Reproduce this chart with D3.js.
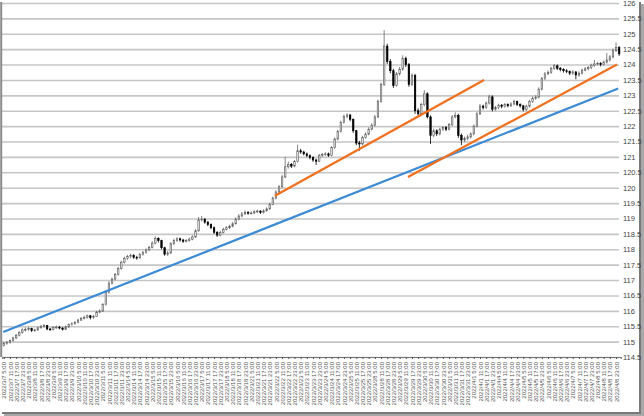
<!DOCTYPE html>
<html><head><meta charset="utf-8">
<script src="https://cdn.jsdelivr.net/npm/d3@7"></script>
<style>html,body{margin:0;padding:0;background:#fff;} svg{display:block;}</style>
</head><body>
<svg id="c" width="644" height="416"></svg>
<script>
const days = ["2022/3/7","2022/3/8","2022/3/9","2022/3/10","2022/3/11","2022/3/14","2022/3/15","2022/3/16","2022/3/17","2022/3/18","2022/3/21","2022/3/22","2022/3/23","2022/3/24","2022/3/25","2022/3/28","2022/3/29","2022/3/30","2022/3/31","2022/4/1","2022/4/4","2022/4/5","2022/4/6","2022/4/7","2022/4/8"];
const candleHours = ["5:00","8:00","11:00","14:00","17:00","20:00","23:00","2:00"];
const tickHours = ["5:00","11:00","17:00","23:00"];
const yTicks = [114.5,115,115.5,116,116.5,117,117.5,118,118.5,119,119.5,120,120.5,121,121.5,122,122.5,123,123.5,124,124.5,125,125.5,126];

const opens = [114.88,114.94,114.97,115.03,115.12,115.21,115.30,115.38,115.40,115.42,
115.36,115.38,115.45,115.49,115.52,115.41,115.39,115.46,115.47,115.44,
115.40,115.48,115.55,115.58,115.63,115.70,115.75,115.79,115.84,115.78,
115.82,115.96,115.99,116.20,116.60,116.90,117.03,117.18,117.38,117.58,
117.70,117.76,117.80,117.74,117.72,117.83,117.90,117.98,118.06,118.20,
118.35,118.28,118.05,117.84,117.88,118.18,118.28,118.34,118.30,118.26,
118.29,118.33,118.40,118.60,118.96,118.98,118.88,118.80,118.70,118.55,
118.46,118.55,118.65,118.70,118.75,118.83,118.98,119.08,119.15,119.20,
119.17,119.18,119.22,119.24,119.19,119.25,119.31,119.46,119.66,119.86,
120.03,120.35,120.68,120.76,120.70,120.85,121.20,121.16,121.10,121.04,
120.98,120.90,120.86,121.05,121.08,121.10,121.05,121.30,121.58,121.83,
122.12,122.31,122.36,122.22,121.85,121.45,121.42,121.63,121.74,121.90,
122.03,122.30,122.80,123.35,124.60,124.10,123.80,123.32,123.70,123.85,
124.20,124.00,123.35,123.65,122.50,122.40,122.70,123.05,122.30,121.70,
121.85,121.75,121.90,121.95,121.90,122.05,122.30,122.35,121.70,121.55,
121.60,121.65,121.75,122.00,122.40,122.65,122.60,122.75,122.95,122.55,
122.60,122.68,122.64,122.70,122.66,122.72,122.80,122.70,122.66,122.55,
122.65,122.80,122.90,122.94,123.20,123.55,123.70,123.75,123.88,123.96,
123.88,123.84,123.80,123.78,123.72,123.76,123.66,123.72,123.82,123.86,
123.90,123.98,124.02,124.04,124.00,124.08,124.15,124.25,124.45,124.55];

const highs = [114.99,115.02,115.07,115.16,115.25,115.34,115.43,115.46,115.48,115.45,
115.42,115.49,115.54,115.57,115.54,115.45,115.50,115.52,115.51,115.47,
115.52,115.59,115.63,115.67,115.74,115.80,115.84,115.88,115.86,115.87,
116.00,116.05,116.25,116.66,116.96,117.08,117.23,117.43,117.63,117.76,
117.82,117.86,117.84,117.79,117.88,117.95,118.03,118.11,118.26,118.42,
118.39,118.31,118.08,117.94,118.23,118.34,118.39,118.38,118.34,118.33,
118.38,118.45,118.65,119.05,119.08,119.01,118.92,118.84,118.74,118.59,
118.60,118.70,118.75,118.80,118.88,119.03,119.14,119.21,119.26,119.24,
119.23,119.27,119.29,119.27,119.30,119.36,119.51,119.71,119.92,120.09,
120.42,121.00,120.85,120.80,120.90,121.40,121.26,121.20,121.14,121.08,
121.02,120.94,121.10,121.13,121.15,121.14,121.35,121.63,121.88,122.18,
122.38,122.42,122.40,122.25,121.88,121.52,121.68,121.80,121.96,122.09,
122.36,122.87,123.42,125.12,124.68,124.18,123.86,123.76,123.92,124.30,
124.26,124.05,123.72,123.70,122.58,122.76,123.17,123.10,122.35,121.92,
121.90,121.95,122.00,122.00,122.10,122.36,122.45,122.40,121.76,121.66,
121.72,121.80,122.05,122.46,122.72,122.70,122.80,123.02,123.00,122.66,
122.73,122.72,122.75,122.74,122.78,122.86,122.83,122.74,122.69,122.70,
122.85,122.96,123.00,123.26,123.60,123.76,123.81,123.93,124.02,124.00,
123.92,123.88,123.85,123.81,123.82,123.79,123.78,123.87,123.92,123.95,
124.03,124.15,124.09,124.08,124.13,124.37,124.31,124.52,124.72,124.60];

const lows = [114.84,114.90,114.93,115.00,115.08,115.17,115.26,115.33,115.35,115.31,
115.32,115.35,115.42,115.45,115.37,115.35,115.36,115.42,115.40,115.36,
115.37,115.44,115.52,115.55,115.60,115.67,115.72,115.75,115.72,115.74,
115.80,115.92,115.96,116.17,116.56,116.86,116.99,117.14,117.34,117.54,
117.66,117.71,117.69,117.66,117.69,117.79,117.86,117.94,118.03,118.16,
118.22,118.00,117.79,117.78,117.85,118.14,118.24,118.25,118.21,118.22,
118.25,118.29,118.37,118.57,118.90,118.83,118.75,118.65,118.50,118.40,
118.42,118.51,118.61,118.66,118.71,118.80,118.94,119.04,119.11,119.12,
119.13,119.14,119.18,119.15,119.16,119.22,119.28,119.43,119.62,119.82,
120.00,120.31,120.62,120.64,120.66,120.82,121.10,121.05,120.99,120.92,
120.84,120.74,120.83,121.00,121.03,121.00,121.02,121.26,121.54,121.79,
122.08,122.25,122.16,121.78,121.38,121.20,121.38,121.59,121.70,121.86,
121.99,122.26,122.76,123.30,124.02,123.72,123.24,123.28,123.64,123.80,
123.92,123.28,123.30,122.40,122.30,122.35,122.65,122.25,121.42,121.64,
121.68,121.70,121.84,121.84,121.86,122.00,122.25,121.62,121.38,121.48,
121.54,121.60,121.70,121.96,122.36,122.54,122.56,122.70,122.48,122.50,
122.55,122.58,122.60,122.61,122.62,122.68,122.65,122.60,122.48,122.50,
122.60,122.76,122.86,122.90,123.16,123.50,123.66,123.70,123.83,123.82,
123.78,123.74,123.72,123.66,123.67,123.52,123.60,123.68,123.78,123.81,
123.85,123.93,123.97,123.94,123.96,124.03,124.10,124.20,124.40,124.28];

const closes = [114.94,114.97,115.03,115.12,115.21,115.30,115.38,115.40,115.42,115.36,
115.38,115.45,115.49,115.52,115.41,115.39,115.46,115.47,115.44,115.40,
115.48,115.55,115.58,115.63,115.70,115.75,115.79,115.84,115.78,115.82,
115.96,115.99,116.20,116.60,116.90,117.03,117.18,117.38,117.58,117.70,
117.76,117.80,117.74,117.72,117.83,117.90,117.98,118.06,118.20,118.35,
118.28,118.05,117.84,117.88,118.18,118.28,118.34,118.30,118.26,118.29,
118.33,118.40,118.60,118.96,118.98,118.88,118.80,118.70,118.55,118.46,
118.55,118.65,118.70,118.75,118.83,118.98,119.08,119.15,119.20,119.17,
119.18,119.22,119.24,119.19,119.25,119.31,119.46,119.66,119.86,120.03,
120.35,120.68,120.76,120.70,120.85,121.20,121.16,121.10,121.04,120.98,
120.90,120.86,121.05,121.08,121.10,121.05,121.30,121.58,121.83,122.12,
122.31,122.36,122.22,121.85,121.45,121.42,121.63,121.74,121.90,122.03,
122.30,122.80,123.35,124.60,124.10,123.80,123.32,123.70,123.85,124.20,
124.00,123.35,123.65,122.50,122.40,122.70,123.05,122.30,121.70,121.85,
121.75,121.90,121.95,121.90,122.05,122.30,122.35,121.70,121.55,121.60,
121.65,121.75,122.00,122.40,122.65,122.60,122.75,122.95,122.55,122.60,
122.68,122.64,122.70,122.66,122.72,122.80,122.70,122.66,122.55,122.65,
122.80,122.90,122.94,123.20,123.55,123.70,123.75,123.88,123.96,123.88,
123.84,123.80,123.78,123.72,123.76,123.66,123.72,123.82,123.86,123.90,
123.98,124.02,124.04,124.00,124.08,124.15,124.25,124.45,124.55,124.35];

// trend lines: [candle position, price]
const trendBlue = [[0.3,115.31],[199.2,123.22]];
const trendOrange1 = [[88.2,119.74],[155.8,123.50]];
const trendOrange2 = [[131.2,120.35],[198.8,124.00]];

const candles = opens.map((o,i)=>({i, o, h:highs[i], l:lows[i], c:closes[i],
  label: days[Math.floor(i/8)] + " " + candleHours[i%8]}));
const tickIdx = candles.filter(d => tickHours.includes(candleHours[d.i%8]) && d.i%2===0).map(d=>d.i);

const svg = d3.select("#c");
// frame + shadow
svg.append("rect").attr("x",4).attr("y",4).attr("width",640).attr("height",412).attr("fill","#a8a8a8");
svg.append("rect").attr("x",2).attr("y",2).attr("width",639).attr("height",412).attr("fill","#7a7a7a");
svg.append("rect").attr("x",0).attr("y",0).attr("width",639).attr("height",412).attr("fill","#fff");

const x = d3.scaleLinear().domain([0,200]).range([2.25,620.7]);
const y = d3.scaleLinear().domain([114.5,126]).range([357,3]);
const font = "'Liberation Sans', Arial, sans-serif";

// grid + y labels
const gy = svg.append("g").attr("transform","translate(619,0)")
  .call(d3.axisRight(y).tickValues(yTicks).tickSize(-617).tickPadding(4).tickFormat(d=>String(d)));
gy.select(".domain").remove();
gy.selectAll(".tick line").attr("stroke","#c6c6c6").attr("stroke-width",1.6);
gy.selectAll(".tick text").attr("fill","#444").style("font-family",font).style("font-size","7.5px");

// x axis
const gx = svg.append("g").attr("transform","translate(0,357)")
  .call(d3.axisBottom(x).tickValues(tickIdx.map(i=>i+0.5)).tickSize(2)
    .tickFormat(v => candles[Math.round(v-0.5)].label));
gx.select(".domain").attr("stroke","#777").attr("stroke-width",1.2);
gx.selectAll(".tick line").attr("stroke","#555");
gx.selectAll(".tick text")
  .attr("y",0).attr("x",-5).attr("dy","0.35em")
  .attr("transform","rotate(-90)").style("text-anchor","end")
  .attr("fill","#555").style("font-family",font).style("font-size","6px");

// left axis line
svg.append("line").attr("x1",1.2).attr("x2",1.2).attr("y1",2).attr("y2",357)
  .attr("stroke","#8a8a8a").attr("stroke-width",2);

// candles
const bw = 1.5;
const cg = svg.append("g");
cg.selectAll("line.w").data(candles).join("line").attr("class","w")
  .attr("x1",d=>x(d.i+0.5)).attr("x2",d=>x(d.i+0.5))
  .attr("y1",d=>y(d.h)).attr("y2",d=>y(d.l))
  .attr("stroke",d=>d.c>=d.o?"#666":"#000").attr("stroke-width",0.8);
cg.selectAll("rect.b").data(candles).join("rect").attr("class","b")
  .attr("x",d=>x(d.i+0.5)-bw/2).attr("width",bw)
  .attr("y",d=>y(Math.max(d.o,d.c)))
  .attr("height",d=>Math.max(0.8, Math.abs(y(d.o)-y(d.c))))
  .attr("fill",d=>d.c>=d.o?"#eee":"#000")
  .attr("stroke",d=>d.c>=d.o?"#555":"#000").attr("stroke-width",0.6);

// trend lines
const line = d3.line().x(d=>x(d[0])).y(d=>y(d[1]));
svg.append("path").attr("d",line(trendBlue)).attr("fill","none").attr("stroke","#3d8bd4").attr("stroke-width",2.2);
svg.append("path").attr("d",line(trendOrange1)).attr("fill","none").attr("stroke","#f0701e").attr("stroke-width",2.2);
svg.append("path").attr("d",line(trendOrange2)).attr("fill","none").attr("stroke","#f0701e").attr("stroke-width",2.2);
</script>
</body></html>
